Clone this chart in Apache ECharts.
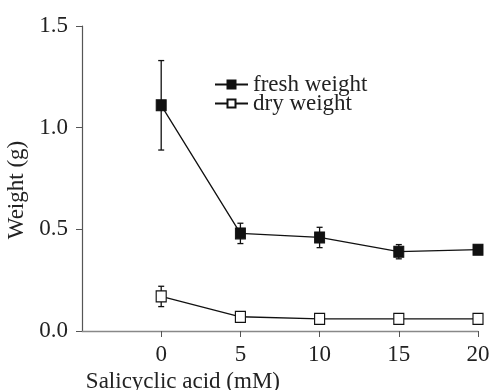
<!DOCTYPE html>
<html><head><meta charset="utf-8">
<script src="https://cdn.jsdelivr.net/npm/echarts@6/dist/echarts.min.js"></script>
<style>html,body{margin:0;padding:0;background:#fff}#c{width:491px;height:390px}</style>
</head><body><div id="c"></div>
<script>
const xValues = [0, 5, 10, 15, 20];
const freshWeight = [1.11, 0.48, 0.46, 0.39, 0.40];
const freshErr = [0.22, 0.05, 0.05, 0.035, 0.02];
const dryWeight = [0.17, 0.07, 0.06, 0.06, 0.06];
const dryErr = [0.05, 0.025, 0.02, 0.01, 0.01];
const xTicks = [0, 5, 10, 15, 20];
const yTicks = [0.0, 0.5, 1.0, 1.5];

const FONT = '"Liberation Serif", "DejaVu Serif", serif';
const chart = echarts.init(document.getElementById('c'), null, {renderer: 'canvas'});

function errData(vals, errs) {
  return xValues.map((x, i) => [x, vals[i] - errs[i], vals[i] + errs[i]]);
}
function errRender(params, api) {
  const x = api.value(0);
  const lo = api.coord([x, api.value(1)]);
  const hi = api.coord([x, api.value(2)]);
  const w = 3;
  const st = {stroke: '#111', lineWidth: 1.3};
  return {type: 'group', children: [
    {type: 'line', shape: {x1: lo[0], y1: lo[1], x2: hi[0], y2: hi[1]}, style: st},
    {type: 'line', shape: {x1: lo[0]-w, y1: lo[1], x2: lo[0]+w, y2: lo[1]}, style: st},
    {type: 'line', shape: {x1: hi[0]-w, y1: hi[1], x2: hi[0]+w, y2: hi[1]}, style: st}
  ]};
}

chart.setOption({
  animation: false,
  backgroundColor: '#fff',
  grid: {left: 82, right: 13, top: 26, bottom: 59, containLabel: false, outerBoundsMode: 'none'},
  legend: {
    left: 209, top: 68, orient: 'vertical', itemWidth: 33, itemHeight: 10, itemGap: -4,
    textStyle: {fontFamily: FONT, fontSize: 23, color: '#222'},
    data: ['fresh weight', 'dry weight']
  },
  xAxis: {
    type: 'value', min: -5, max: 20, interval: 5,
    name: 'Salicyclic acid (mM)', nameLocation: 'middle', nameGap: 37,
    nameTextStyle: {fontFamily: FONT, fontSize: 23, color: '#222', align: 'right'},
    axisLine: {onZero: false, lineStyle: {color: '#888', width: 1.3}},
    axisTick: {inside: false, length: 6, lineStyle: {color: '#555'}, customValues: xTicks},
    axisLabel: {fontFamily: FONT, fontSize: 23, color: '#222', margin: 12, customValues: xTicks,
      formatter: v => String(v)},
    splitLine: {show: false}
  },
  yAxis: {
    type: 'value', min: 0, max: 1.5, interval: 0.5,
    name: 'Weight (g)', nameLocation: 'middle', nameGap: 50, nameRotate: 90,
    nameTextStyle: {fontFamily: FONT, fontSize: 23, color: '#222', padding: [0, 23, 0, 0]},
    axisLine: {show: true, onZero: false, lineStyle: {color: '#555', width: 1.2}},
    axisTick: {show: true, length: 6, lineStyle: {color: '#555'}},
    axisLabel: {fontFamily: FONT, fontSize: 23, color: '#222', margin: 14, formatter: v => v.toFixed(1)},
    splitLine: {show: false}
  },
  series: [
    {type: 'custom', renderItem: errRender, data: errData(freshWeight, freshErr), z: 1, silent: true},
    {type: 'custom', renderItem: errRender, data: errData(dryWeight, dryErr), z: 1, silent: true},
    {name: 'fresh weight', type: 'line', data: xValues.map((x, i) => [x, freshWeight[i]]),
     symbol: 'rect', symbolSize: [10, 11], z: 3,
     lineStyle: {color: '#111', width: 1.3},
     itemStyle: {color: '#111', borderColor: '#111', borderWidth: 1}},
    {name: 'dry weight', type: 'line', data: xValues.map((x, i) => [x, dryWeight[i]]),
     symbol: 'rect', symbolSize: [10, 11], z: 3,
     lineStyle: {color: '#111', width: 1.3},
     itemStyle: {color: '#fff', borderColor: '#111', borderWidth: 1.2}}
  ]
});
</script></body></html>
